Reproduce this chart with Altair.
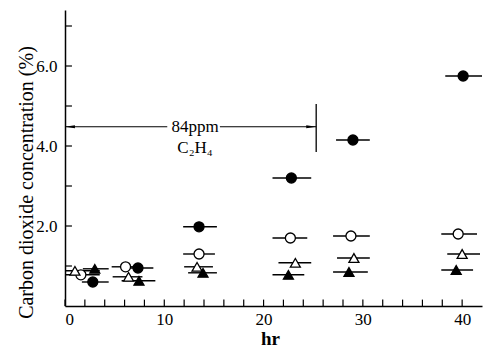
import altair as alt
import pandas as pd

# ---- data ----
fc_x = [2.8, 7.35, 13.5, 22.8, 29.0, 40.1]
fc_y = [0.60, 0.95, 1.98, 3.20, 4.15, 5.75]
fc_lo = [1.7, 5.7, 11.9, 20.9, 27.3, 38.3]
fc_hi = [4.4, 8.9, 15.3, 24.8, 30.7, 42.0]

oc_x = [1.6, 6.1, 13.5, 22.7, 28.8, 39.6]
oc_y = [0.78, 0.98, 1.30, 1.70, 1.75, 1.80]
oc_lo = [0.1, 4.7, 11.9, 20.9, 27.0, 37.9]
oc_hi = [3.5, 7.7, 15.1, 24.4, 30.7, 41.5]

ot_x = [1.0, 6.4, 13.3, 23.2, 29.1, 40.0]
ot_y = [0.88, 0.73, 0.98, 1.08, 1.20, 1.30]
ot_lo = [0.1, 4.8, 12.0, 21.5, 27.4, 38.5]
ot_hi = [3.5, 7.8, 14.9, 24.8, 30.7, 41.8]

ft_x = [3.0, 7.45, 13.9, 22.5, 28.6, 39.4]
ft_y = [0.93, 0.63, 0.83, 0.78, 0.85, 0.90]
ft_lo = [1.8, 5.7, 12.4, 20.9, 27.0, 37.9]
ft_hi = [4.4, 9.1, 15.3, 24.1, 30.5, 41.1]

xtick_vals = list(range(0, 41, 2))
ytick_vals = [1, 2, 3, 4, 5, 6, 7]
xlabel_vals = [0, 10, 20, 30, 40]
ylabel_vals = [2, 4, 6]

# annotation (84 ppm C2H4 period)
ann_y = 4.48
ann_start, ann_end = 0.0, 25.3
ann_gap = [10.3, 15.6]
ann_bar = [3.85, 5.05]
ann_text = ["84ppm", "C₂H₄"]
ann_text_x = 13.1
ann_text_y = [4.47, 3.95]

def frame(xs_, ys_, lo, hi):
    return pd.DataFrame({"hr": xs_, "co2": ys_, "lo": lo, "hi": hi})

d_fc = frame(fc_x, fc_y, fc_lo, fc_hi)
d_oc = frame(oc_x, oc_y, oc_lo, oc_hi)
d_ot = frame(ot_x, ot_y, ot_lo, ot_hi)
d_ft = frame(ft_x, ft_y, ft_lo, ft_hi)
df = pd.concat([d_fc, d_oc, d_ot, d_ft], ignore_index=True)

FONT = "Liberation Serif"
xs = alt.Scale(domain=[0, 42], nice=False)
ys = alt.Scale(domain=[0, 7.4], nice=False)

bars = alt.Chart(df).mark_rule(color="black", strokeWidth=1.4).encode(
    x=alt.X("lo:Q", scale=xs,
            axis=alt.Axis(values=xlabel_vals, tickSize=0, labelPadding=5,
                          labelFontSize=17, labelFont=FONT, labelColor="black",
                          domainColor="black", domainWidth=1.5, grid=False,
                          title="hr", titleFont=FONT, titleFontSize=19,
                          titleFontWeight="bold", titleColor="black",
                          titleX=205, titleY=32, titleBaseline="middle")),
    x2="hi:Q",
    y=alt.Y("co2:Q", scale=ys,
            axis=alt.Axis(values=ylabel_vals, format=".1f", tickSize=0,
                          labelPadding=8, labelFontSize=17, labelFont=FONT,
                          labelColor="black", domainColor="black",
                          domainWidth=1.5, grid=False,
                          title="Carbon dioxide concentration (%)",
                          titleFont=FONT, titleFontSize=20,
                          titleFontWeight="normal", titleColor="black",
                          titleX=-39, titleY=172, titleAngle=270,
                          titleBaseline="middle", titleAlign="center")),
)

def pts(d, shape, fill):
    return alt.Chart(d).mark_point(shape=shape, filled=True, fill=fill,
                                   stroke="black", strokeWidth=1.3, opacity=1,
                                   size=100).encode(
        x=alt.X("hr:Q", scale=xs), y=alt.Y("co2:Q", scale=ys))

p_fc = pts(d_fc, "circle", "black")
p_oc = pts(d_oc, "circle", "white")
p_ot = pts(d_ot, "triangle-up", "white")
p_ft = pts(d_ft, "triangle-up", "black")

xt = alt.Chart(pd.DataFrame({"v": xtick_vals})).mark_rule(color="black", strokeWidth=1.2).encode(
    x=alt.X("v:Q", scale=xs), y=alt.datum(0), y2=alt.datum(0.16))
yt = alt.Chart(pd.DataFrame({"v": ytick_vals})).mark_rule(color="black", strokeWidth=1.2).encode(
    y=alt.Y("v:Q", scale=ys), x=alt.datum(0), x2=alt.datum(0.7))

seg = pd.DataFrame({"a": [ann_start, ann_gap[1]], "b": [ann_gap[0], ann_end],
                    "y": [ann_y, ann_y]})
ann_lines = alt.Chart(seg).mark_rule(color="black", strokeWidth=1.1).encode(
    x=alt.X("a:Q", scale=xs), x2="b:Q", y=alt.Y("y:Q", scale=ys))
vbar = alt.Chart(pd.DataFrame({"x": [ann_end], "y1": [ann_bar[0]], "y2": [ann_bar[1]]})).mark_rule(
    color="black", strokeWidth=1.3).encode(
    x=alt.X("x:Q", scale=xs), y=alt.Y("y1:Q", scale=ys), y2="y2:Q")

left_head = alt.Chart(pd.DataFrame({"x": [ann_start + 0.5], "y": [ann_y]})).mark_point(
    shape="M-1,0L1,-0.3L1,0.3Z", filled=True, color="black", opacity=1, size=100).encode(
    x=alt.X("x:Q", scale=xs), y=alt.Y("y:Q", scale=ys))
right_head = alt.Chart(pd.DataFrame({"x": [ann_end - 0.5], "y": [ann_y]})).mark_point(
    shape="M1,0L-1,-0.3L-1,0.3Z", filled=True, color="black", opacity=1, size=100).encode(
    x=alt.X("x:Q", scale=xs), y=alt.Y("y:Q", scale=ys))

txt = alt.Chart(pd.DataFrame({"t": ann_text, "x": [ann_text_x] * 2, "y": ann_text_y})).mark_text(
    font=FONT, fontSize=17, color="black", baseline="middle", align="center").encode(
    x=alt.X("x:Q", scale=xs), y=alt.Y("y:Q", scale=ys), text="t:N")

chart = alt.layer(bars, xt, yt, ann_lines, vbar, left_head, right_head, txt,
                  p_fc, p_oc, p_ot, p_ft).properties(
    width=417, height=296,
    padding={"left": 65, "top": 10, "right": 2, "bottom": 41},
    autosize=alt.AutoSizeParams(type="none"),
    background="white",
).configure_view(stroke=None)

chart.save("out.html", embed_options={"renderer": "svg", "actions": False})
